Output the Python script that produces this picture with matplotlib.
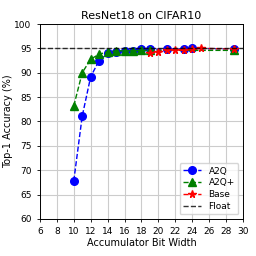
import numpy as np
import matplotlib.pyplot as plt

a2q_x = [10, 11, 12, 13, 14, 15, 16, 17, 18, 19, 21, 23, 24, 29]
a2q_y = [67.8, 81.1, 89.2, 92.5, 94.0, 94.3, 94.5, 94.5, 94.8, 94.8, 94.9, 94.9, 95.0, 94.9]

a2qp_x = [10, 11, 12, 13, 14, 15, 16, 17, 18, 19, 29]
a2qp_y = [83.2, 90.0, 92.8, 93.8, 94.3, 94.5, 94.5, 94.5, 94.6, 94.6, 94.6]

base_x = [19, 20, 21, 22, 23, 24, 25, 29]
base_y = [94.1, 94.3, 94.6, 94.6, 94.7, 94.8, 95.0, 94.9]

float_acc = 95.1

fig = plt.figure(figsize=(2.56, 2.56), dpi=100)
ax = fig.add_axes([0.156, 0.145, 0.793, 0.761])

ax.plot(a2q_x, a2q_y, 'o--', color='blue', markersize=5.5, linewidth=1, label='A2Q')
ax.plot(a2qp_x, a2qp_y, '^--', color='green', markersize=5.5, linewidth=1, label='A2Q+')
ax.plot(base_x, base_y, '*--', color='red', markersize=5.5, linewidth=1, label='Base')
ax.axhline(float_acc, color='black', linestyle='--', linewidth=1, alpha=0.8, label='Float')

ax.set_xlim(6, 30)
ax.set_ylim(60, 100)
ax.set_xticks(np.arange(6, 31, 2))
ax.set_yticks(np.arange(60, 101, 5))
ax.tick_params(labelsize=6.5, length=2.5, width=0.6)
ax.grid(True, color='#cccccc', linewidth=0.8)
ax.set_axisbelow(True)
for s in ax.spines.values():
    s.set_linewidth(0.7)

ax.set_xlabel('Accumulator Bit Width', fontsize=7, labelpad=1)
ax.set_ylabel('Top-1 Accuracy (%)', fontsize=7, labelpad=1)
ax.set_title('ResNet18 on CIFAR10', fontsize=8, pad=4)
ax.legend(loc='lower right', fontsize=6.5, handlelength=2, borderpad=0.4, labelspacing=0.3)

fig.savefig('out.png', dpi=100)
